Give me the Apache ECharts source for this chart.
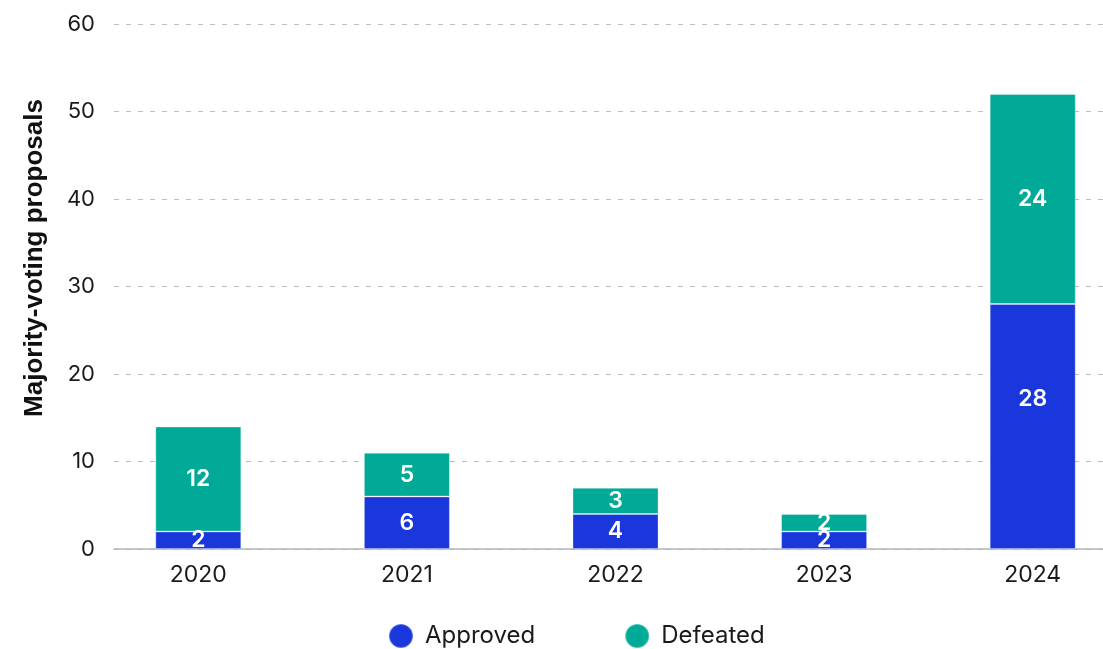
<!DOCTYPE html>
<html>
<head>
<meta charset="utf-8">
<script src="https://cdn.jsdelivr.net/npm/echarts@6/dist/echarts.min.js"></script>
<style>html,body{margin:0;padding:0;background:#fff;overflow:hidden}#c{width:1140px;height:649px}</style>
</head>
<body>
<div id="c"></div>
<script>
const categories = ['2020', '2021', '2022', '2023', '2024'];
const approved = [2, 6, 4, 2, 28];
const defeated = [12, 5, 3, 2, 24];
const yTicks = [0, 10, 20, 30, 40, 50, 60];

const chart = echarts.init(document.getElementById('c'));
const barLabel = { show: true, position: 'inside', color: '#fff', fontFamily: 'Inter', fontWeight: 600, fontSize: 23 };
// the label of the tallest approved segment sits higher in the reference
const approvedData = approved.map((v, i) => i === approved.length - 1 ? { value: v, label: { offset: [0, -27] } } : v);
chart.setOption({
  animation: false,
  grid: [
    { left: 114, right: 0, top: 24, bottom: 100 },
    { left: 94, width: 1043, top: 24, bottom: 100 }
  ],
  xAxis: [
    {
      gridIndex: 0, type: 'value', min: 0, max: 1,
      splitLine: { show: false }, axisTick: { show: false }, axisLabel: { show: false },
      axisLine: { show: true, lineStyle: { color: '#b5b5b5', width: 1.5 } }
    },
    {
      gridIndex: 1, type: 'category', data: categories,
      axisLine: { show: false }, axisTick: { show: false },
      axisLabel: { color: '#1a1a1a', fontFamily: 'Inter', fontSize: 23, margin: 15 }
    }
  ],
  yAxis: [
    {
      gridIndex: 0, type: 'value', min: 0, max: 60, interval: 10,
      axisLine: { show: false }, axisTick: { show: false },
      axisLabel: { color: '#1a1a1a', fontFamily: 'Inter', fontSize: 22, margin: 19 },
      splitLine: { lineStyle: { color: '#bdbdbd', type: [5, 7], width: 1 } }
    },
    {
      gridIndex: 1, type: 'value', min: 0, max: 60, interval: 10,
      axisLine: { show: false }, axisTick: { show: false }, axisLabel: { show: false }, splitLine: { show: false }
    }
  ],
  legend: {
    left: 388, top: 623, padding: 0,
    icon: 'circle', itemWidth: 24, itemHeight: 24, itemGap: 89,
    textStyle: { fontFamily: 'Inter', fontSize: 24, color: '#1a1a1a', padding: [0, 0, 0, 7] },
    data: ['Approved', 'Defeated']
  },
  graphic: [{
    type: 'text', x: 35, y: 258, rotation: Math.PI / 2,
    style: {
      text: 'Majority-voting proposals', fill: '#111',
      font: 'bold 26px "Liberation Sans", Arial, sans-serif',
      align: 'center', verticalAlign: 'middle'
    }
  }],
  series: [
    {
      name: 'Approved', type: 'bar', stack: 'a', barWidth: 86, xAxisIndex: 1, yAxisIndex: 1,
      data: approvedData,
      itemStyle: { color: '#1937db', borderColor: 'rgba(255,255,255,0.3)', borderWidth: 1 },
      label: barLabel
    },
    {
      name: 'Defeated', type: 'bar', stack: 'a', barWidth: 86, xAxisIndex: 1, yAxisIndex: 1,
      data: defeated,
      itemStyle: { color: '#00aa97', borderColor: 'rgba(255,255,255,0.3)', borderWidth: 1 },
      label: barLabel
    }
  ]
});
</script>
</body>
</html>
